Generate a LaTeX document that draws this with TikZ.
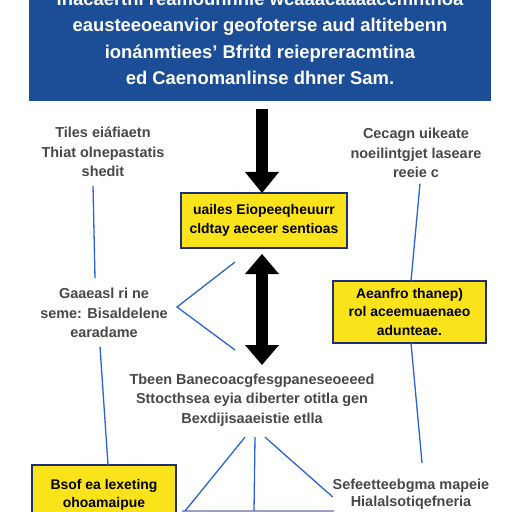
\documentclass[tikz,border=0pt]{standalone}
\usepackage{fontspec}
\setmainfont{Liberation Sans}
\usetikzlibrary{arrows.meta,calc}
\definecolor{navy}{HTML}{1B4E96}
\definecolor{frame}{HTML}{1F3070}
\definecolor{lemon}{HTML}{FBE31C}
\definecolor{wire}{HTML}{2A62D4}
\definecolor{graytext}{HTML}{474747}
\newcommand{\bannerfont}{\fontsize{18.5}{26.5}\selectfont\bfseries}
\newcommand{\notefont}{\fontsize{14.5}{19.5}\selectfont\bfseries}
\newcommand{\boxfont}{\fontsize{14}{18.5}\selectfont\bfseries}
\tikzset{
  every node/.style={inner sep=0pt,outer sep=0pt},
  bannerbox/.style={fill=navy,minimum width=462bp,minimum height=116bp},
  bannertext/.style={font=\bannerfont,text=white,align=center},
  keybox/.style={draw=frame,fill=lemon,line width=1.6bp,font=\boxfont,text=black,align=center},
  note/.style={font=\notefont,text=graytext,align=center},
  link/.style={draw=wire,line width=1.3bp},
  bigarrow/.style={line width=12bp,-{Triangle[length=21bp,width=34bp,line width=0pt]}},
  bigboth/.style={line width=12bp,{Triangle[length=20bp,width=34bp,line width=0pt]}-{Triangle[length=20bp,width=34bp,line width=0pt]}}
}
\begin{document}
\begin{tikzpicture}[x=1bp,y=-1bp]

\path[use as bounding box] (0,0) rectangle (512,512);
% Banner across the top, cut by the page edge.
\node[bannerbox] (banner) at (260,43) {};
\node[bannertext] (bannertext) at (260,38.5) {Ihacaertni reamounnnie wcaaacaaaaccmntnoa\\eausteeoeanvior geofoterse aud altitebenn\\ion\'anmtiees' Bfritd reiepreracmtina\\ed Caenomanlinse dhner Sam.};

% Yellow boxes
\node[keybox,minimum width=166bp,minimum height=55bp] (box1) at (264,220.5) {uailes Eiopeeqheuurr\\cldtay aeceer sentioas};
\node[keybox,minimum width=153bp,minimum height=62bp] (boxr) at (409.5,312) {Aeanfro thanep)\\rol aceemuaenaeo\\adunteae.};
\node[keybox,minimum width=144bp,minimum height=60bp] (boxbl) at (104,495) {Bsof ea lexeting\\ohoamaipue};
\node[keybox,draw=frame!45,minimum width=150bp,minimum height=40bp] (boxb) at (258,531) {};

% Gray notes
\node[note] (lefttop) at (103,152) {Tiles ei\'afiaetn\\Thiat olnepastatis\\shedit};
\node[note] (righttop) at (416,153) {Cecagn uikeate\\noeilintgjet laseare\\reeie c};
\node[note] (leftmid) at (104,313) {Gaaeasl ri ne\\seme: Bisaldelene\\earadame};
\node[note] (centre) at (252,400) {Tbeen Banecoacgfesgpaneseoeeed\\Sttocthsea eyia diberter otitla gen\\Bexdijisaaeistie etlla};
\node[note,font=\fontsize{14.5}{17}\selectfont\bfseries] (botright) at (411,494) {Sefeetteebgma mapeie\\Hialalsotiqefneria};

% Black arrows on the middle axis
\coordinate (dtop) at (262,109);
\coordinate (dbot) at (262,365);
\draw[bigarrow] (dtop) -- (dtop |- box1.north);
\draw[bigboth] ([yshift=-6bp]box1.south -| dtop) -- (dbot);

% Blue connectors
\coordinate (vtop) at (235,262);
\coordinate (vtip) at (177,307);
\coordinate (vbot) at (235,350);
\draw[link] (vtop) -- (vtip) -- (vbot);
\draw[link] ([xshift=-10bp,yshift=-9bp]lefttop.south) -- ([xshift=-9bp,yshift=10bp]leftmid.north);
\draw[link] ([xshift=-4bp,yshift=-9bp]leftmid.south) -- ([xshift=4bp]boxbl.north);
\draw[link] ([xshift=4bp,yshift=-6bp]righttop.south) -- ([xshift=1.5bp]boxr.north);
\draw[link] ([xshift=1.5bp]boxr.south) -- ([xshift=11bp,yshift=16bp]botright.north);
\draw[link] ([xshift=-7bp,yshift=-11bp]centre.south) -- ([xshift=2bp]boxb.north west);
\draw[link] ([xshift=3bp,yshift=-11bp]centre.south) -- ([xshift=-4bp]boxb.north);
\draw[link] ([xshift=13bp,yshift=-11bp]centre.south) -- ([yshift=-3bp]botright.west);
\end{tikzpicture}
\end{document}
